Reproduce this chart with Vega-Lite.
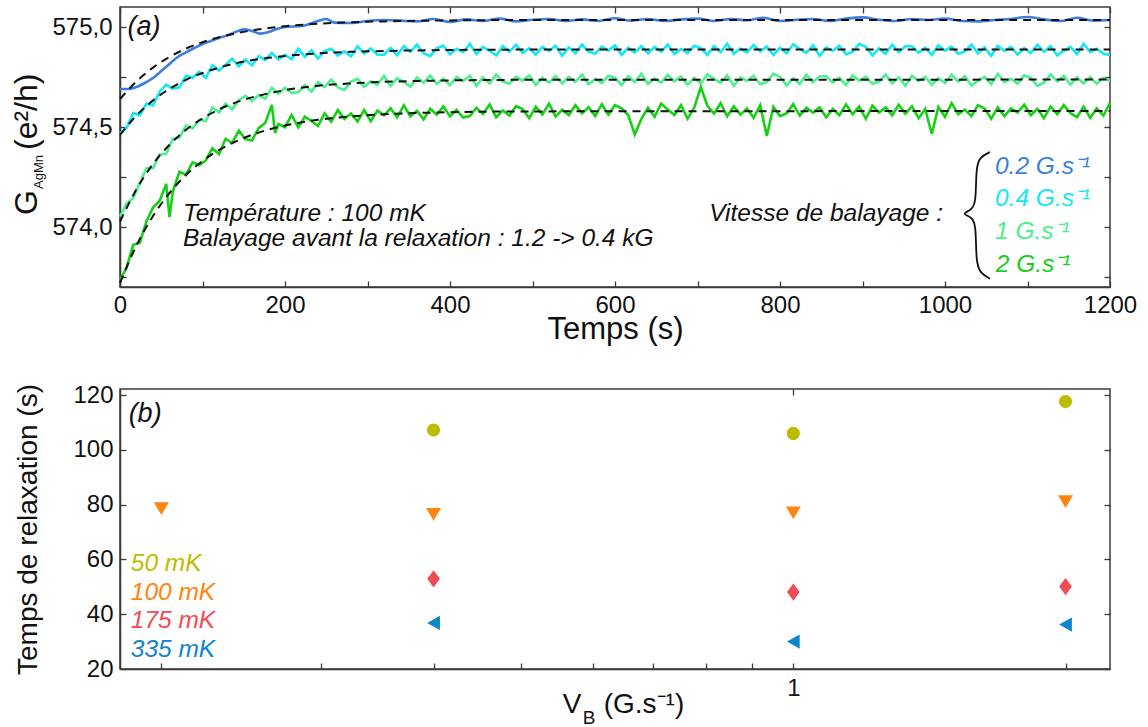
{
  "$schema": "https://vega.github.io/schema/vega-lite/v6.json",
  "padding": {"left": 10, "top": 5, "right": 0, "bottom": 0},
  "autosize": {"type": "pad"},
  "bounds": "flush",
  "spacing": 102,
  "resolve": {"scale": {"color": "independent", "shape": "independent"}},
  "config": {
    "font": "Liberation Sans",
    "view": {"stroke": "#3a3a3a", "strokeWidth": 1.5},
    "axis": {"domainColor": "#3a3a3a", "domainWidth": 1.5, "tickColor": "#3a3a3a", "tickWidth": 1.3, "tickSize": -6, "grid": false, "labelFont": "Liberation Sans", "labelFontSize": 24, "labelColor": "#111", "labelFlush": false, "labelOverlap": false, "titleFont": "Liberation Sans", "titleFontWeight": "normal", "titleColor": "#111"}
  },
  "datasets": {
    "raw": [
      {"s":"0.2","t":0,"g":574.690},{"s":"0.2","t":10,"g":574.690},{"s":"0.2","t":20,"g":574.700},{"s":"0.2","t":30,"g":574.720},{"s":"0.2","t":40,"g":574.745},{"s":"0.2","t":50,"g":574.780},{"s":"0.2","t":60,"g":574.815},{"s":"0.2","t":70,"g":574.850},{"s":"0.2","t":80,"g":574.873},{"s":"0.2","t":90,"g":574.895},{"s":"0.2","t":100,"g":574.915},{"s":"0.2","t":110,"g":574.930},{"s":"0.2","t":120,"g":574.945},{"s":"0.2","t":130,"g":574.958},{"s":"0.2","t":140,"g":574.975},{"s":"0.2","t":150,"g":574.988},{"s":"0.2","t":160,"g":574.980},{"s":"0.2","t":170,"g":574.967},{"s":"0.2","t":180,"g":574.975},{"s":"0.2","t":190,"g":574.990},{"s":"0.2","t":200,"g":575.000},{"s":"0.2","t":220,"g":575.005},{"s":"0.2","t":240,"g":575.030},{"s":"0.2","t":250,"g":575.040},{"s":"0.2","t":260,"g":575.022},{"s":"0.2","t":280,"g":575.020},{"s":"0.2","t":300,"g":575.030},{"s":"0.2","t":320,"g":575.035},{"s":"0.2","t":340,"g":575.032},{"s":"0.2","t":360,"g":575.028},{"s":"0.2","t":380,"g":575.040},{"s":"0.2","t":400,"g":575.025},{"s":"0.2","t":420,"g":575.038},{"s":"0.2","t":440,"g":575.030},{"s":"0.2","t":460,"g":575.042},{"s":"0.2","t":480,"g":575.028},{"s":"0.2","t":500,"g":575.036},{"s":"0.2","t":520,"g":575.040},{"s":"0.2","t":540,"g":575.030},{"s":"0.2","t":560,"g":575.038},{"s":"0.2","t":580,"g":575.030},{"s":"0.2","t":600,"g":575.044},{"s":"0.2","t":620,"g":575.032},{"s":"0.2","t":640,"g":575.040},{"s":"0.2","t":660,"g":575.030},{"s":"0.2","t":680,"g":575.038},{"s":"0.2","t":700,"g":575.042},{"s":"0.2","t":720,"g":575.030},{"s":"0.2","t":740,"g":575.040},{"s":"0.2","t":760,"g":575.034},{"s":"0.2","t":780,"g":575.046},{"s":"0.2","t":800,"g":575.030},{"s":"0.2","t":820,"g":575.036},{"s":"0.2","t":840,"g":575.040},{"s":"0.2","t":860,"g":575.030},{"s":"0.2","t":880,"g":575.042},{"s":"0.2","t":900,"g":575.048},{"s":"0.2","t":920,"g":575.036},{"s":"0.2","t":940,"g":575.030},{"s":"0.2","t":960,"g":575.040},{"s":"0.2","t":980,"g":575.035},{"s":"0.2","t":1000,"g":575.042},{"s":"0.2","t":1020,"g":575.030},{"s":"0.2","t":1040,"g":575.028},{"s":"0.2","t":1060,"g":575.035},{"s":"0.2","t":1080,"g":575.040},{"s":"0.2","t":1100,"g":575.050},{"s":"0.2","t":1120,"g":575.038},{"s":"0.2","t":1140,"g":575.030},{"s":"0.2","t":1160,"g":575.046},{"s":"0.2","t":1180,"g":575.032},{"s":"0.2","t":1200,"g":575.035}
    ],
    "noisy": [
      {"s":"0.4","t":0,"g":574.467},{"s":"0.4","t":8,"g":574.496},{"s":"0.4","t":16,"g":574.570},{"s":"0.4","t":24,"g":574.558},{"s":"0.4","t":32,"g":574.616},{"s":"0.4","t":40,"g":574.608},{"s":"0.4","t":48,"g":574.675},{"s":"0.4","t":56,"g":574.712},{"s":"0.4","t":64,"g":574.692},{"s":"0.4","t":72,"g":574.698},{"s":"0.4","t":80,"g":574.756},{"s":"0.4","t":88,"g":574.746},{"s":"0.4","t":96,"g":574.776},{"s":"0.4","t":104,"g":574.746},{"s":"0.4","t":112,"g":574.809},{"s":"0.4","t":120,"g":574.782},{"s":"0.4","t":128,"g":574.811},{"s":"0.4","t":136,"g":574.842},{"s":"0.4","t":144,"g":574.803},{"s":"0.4","t":152,"g":574.837},{"s":"0.4","t":160,"g":574.808},{"s":"0.4","t":168,"g":574.854},{"s":"0.4","t":176,"g":574.835},{"s":"0.4","t":184,"g":574.871},{"s":"0.4","t":192,"g":574.837},{"s":"0.4","t":200,"g":574.861},{"s":"0.4","t":208,"g":574.838},{"s":"0.4","t":216,"g":574.891},{"s":"0.4","t":224,"g":574.851},{"s":"0.4","t":232,"g":574.884},{"s":"0.4","t":240,"g":574.842},{"s":"0.4","t":248,"g":574.879},{"s":"0.4","t":256,"g":574.891},{"s":"0.4","t":264,"g":574.857},{"s":"0.4","t":272,"g":574.878},{"s":"0.4","t":280,"g":574.853},{"s":"0.4","t":288,"g":574.903},{"s":"0.4","t":296,"g":574.868},{"s":"0.4","t":304,"g":574.893},{"s":"0.4","t":312,"g":574.861},{"s":"0.4","t":320,"g":574.862},{"s":"0.4","t":328,"g":574.896},{"s":"0.4","t":336,"g":574.859},{"s":"0.4","t":344,"g":574.904},{"s":"0.4","t":352,"g":574.876},{"s":"0.4","t":360,"g":574.912},{"s":"0.4","t":368,"g":574.869},{"s":"0.4","t":376,"g":574.854},{"s":"0.4","t":384,"g":574.894},{"s":"0.4","t":392,"g":574.906},{"s":"0.4","t":400,"g":574.864},{"s":"0.4","t":408,"g":574.891},{"s":"0.4","t":416,"g":574.874},{"s":"0.4","t":424,"g":574.916},{"s":"0.4","t":432,"g":574.864},{"s":"0.4","t":440,"g":574.901},{"s":"0.4","t":448,"g":574.881},{"s":"0.4","t":456,"g":574.858},{"s":"0.4","t":464,"g":574.904},{"s":"0.4","t":472,"g":574.876},{"s":"0.4","t":480,"g":574.911},{"s":"0.4","t":488,"g":574.870},{"s":"0.4","t":496,"g":574.894},{"s":"0.4","t":504,"g":574.862},{"s":"0.4","t":512,"g":574.900},{"s":"0.4","t":520,"g":574.880},{"s":"0.4","t":528,"g":574.906},{"s":"0.4","t":536,"g":574.856},{"s":"0.4","t":544,"g":574.898},{"s":"0.4","t":552,"g":574.868},{"s":"0.4","t":560,"g":574.912},{"s":"0.4","t":568,"g":574.877},{"s":"0.4","t":576,"g":574.866},{"s":"0.4","t":584,"g":574.902},{"s":"0.4","t":592,"g":574.882},{"s":"0.4","t":600,"g":574.908},{"s":"0.4","t":608,"g":574.860},{"s":"0.4","t":616,"g":574.896},{"s":"0.4","t":624,"g":574.872},{"s":"0.4","t":632,"g":574.904},{"s":"0.4","t":640,"g":574.868},{"s":"0.4","t":648,"g":574.900},{"s":"0.4","t":656,"g":574.876},{"s":"0.4","t":664,"g":574.912},{"s":"0.4","t":672,"g":574.864},{"s":"0.4","t":680,"g":574.890},{"s":"0.4","t":688,"g":574.870},{"s":"0.4","t":696,"g":574.906},{"s":"0.4","t":704,"g":574.895},{"s":"0.4","t":712,"g":574.860},{"s":"0.4","t":720,"g":574.904},{"s":"0.4","t":728,"g":574.874},{"s":"0.4","t":736,"g":574.916},{"s":"0.4","t":744,"g":574.866},{"s":"0.4","t":752,"g":574.892},{"s":"0.4","t":760,"g":574.872},{"s":"0.4","t":768,"g":574.910},{"s":"0.4","t":776,"g":574.878},{"s":"0.4","t":784,"g":574.902},{"s":"0.4","t":792,"g":574.861},{"s":"0.4","t":800,"g":574.896},{"s":"0.4","t":808,"g":574.868},{"s":"0.4","t":816,"g":574.914},{"s":"0.4","t":824,"g":574.891},{"s":"0.4","t":832,"g":574.871},{"s":"0.4","t":840,"g":574.908},{"s":"0.4","t":848,"g":574.856},{"s":"0.4","t":856,"g":574.898},{"s":"0.4","t":864,"g":574.881},{"s":"0.4","t":872,"g":574.906},{"s":"0.4","t":880,"g":574.864},{"s":"0.4","t":888,"g":574.876},{"s":"0.4","t":896,"g":574.916},{"s":"0.4","t":904,"g":574.901},{"s":"0.4","t":912,"g":574.858},{"s":"0.4","t":920,"g":574.894},{"s":"0.4","t":928,"g":574.866},{"s":"0.4","t":936,"g":574.911},{"s":"0.4","t":944,"g":574.874},{"s":"0.4","t":952,"g":574.904},{"s":"0.4","t":960,"g":574.904},{"s":"0.4","t":968,"g":574.872},{"s":"0.4","t":976,"g":574.896},{"s":"0.4","t":984,"g":574.860},{"s":"0.4","t":992,"g":574.908},{"s":"0.4","t":1000,"g":574.882},{"s":"0.4","t":1008,"g":574.902},{"s":"0.4","t":1016,"g":574.866},{"s":"0.4","t":1024,"g":574.877},{"s":"0.4","t":1032,"g":574.912},{"s":"0.4","t":1040,"g":574.868},{"s":"0.4","t":1048,"g":574.898},{"s":"0.4","t":1056,"g":574.856},{"s":"0.4","t":1064,"g":574.906},{"s":"0.4","t":1072,"g":574.880},{"s":"0.4","t":1080,"g":574.900},{"s":"0.4","t":1088,"g":574.862},{"s":"0.4","t":1096,"g":574.894},{"s":"0.4","t":1104,"g":574.870},{"s":"0.4","t":1112,"g":574.911},{"s":"0.4","t":1120,"g":574.876},{"s":"0.4","t":1128,"g":574.904},{"s":"0.4","t":1136,"g":574.858},{"s":"0.4","t":1144,"g":574.881},{"s":"0.4","t":1152,"g":574.901},{"s":"0.4","t":1160,"g":574.864},{"s":"0.4","t":1168,"g":574.916},{"s":"0.4","t":1176,"g":574.874},{"s":"0.4","t":1184,"g":574.891},{"s":"0.4","t":1192,"g":574.866},{"s":"0.4","t":1200,"g":574.860},
      {"s":"1","t":0,"g":574.052},{"s":"1","t":8,"g":574.118},{"s":"1","t":16,"g":574.144},{"s":"1","t":24,"g":574.220},{"s":"1","t":32,"g":574.294},{"s":"1","t":40,"g":574.294},{"s":"1","t":48,"g":574.363},{"s":"1","t":56,"g":574.366},{"s":"1","t":64,"g":574.441},{"s":"1","t":72,"g":574.447},{"s":"1","t":80,"g":574.507},{"s":"1","t":88,"g":574.493},{"s":"1","t":96,"g":574.536},{"s":"1","t":104,"g":574.530},{"s":"1","t":112,"g":574.598},{"s":"1","t":120,"g":574.573},{"s":"1","t":128,"g":574.617},{"s":"1","t":136,"g":574.587},{"s":"1","t":144,"g":574.634},{"s":"1","t":152,"g":574.656},{"s":"1","t":160,"g":574.630},{"s":"1","t":168,"g":574.659},{"s":"1","t":176,"g":574.641},{"s":"1","t":184,"g":574.696},{"s":"1","t":192,"g":574.666},{"s":"1","t":200,"g":574.696},{"s":"1","t":208,"g":574.670},{"s":"1","t":216,"g":574.674},{"s":"1","t":224,"g":574.709},{"s":"1","t":232,"g":574.676},{"s":"1","t":240,"g":574.724},{"s":"1","t":248,"g":574.700},{"s":"1","t":256,"g":574.738},{"s":"1","t":264,"g":574.698},{"s":"1","t":272,"g":574.685},{"s":"1","t":280,"g":574.727},{"s":"1","t":288,"g":574.741},{"s":"1","t":296,"g":574.701},{"s":"1","t":304,"g":574.728},{"s":"1","t":312,"g":574.712},{"s":"1","t":320,"g":574.755},{"s":"1","t":328,"g":574.706},{"s":"1","t":336,"g":574.744},{"s":"1","t":344,"g":574.725},{"s":"1","t":352,"g":574.702},{"s":"1","t":360,"g":574.748},{"s":"1","t":368,"g":574.721},{"s":"1","t":376,"g":574.757},{"s":"1","t":384,"g":574.716},{"s":"1","t":392,"g":574.741},{"s":"1","t":400,"g":574.709},{"s":"1","t":408,"g":574.750},{"s":"1","t":416,"g":574.730},{"s":"1","t":424,"g":574.756},{"s":"1","t":432,"g":574.706},{"s":"1","t":440,"g":574.748},{"s":"1","t":448,"g":574.718},{"s":"1","t":456,"g":574.762},{"s":"1","t":464,"g":574.727},{"s":"1","t":472,"g":574.716},{"s":"1","t":480,"g":574.752},{"s":"1","t":488,"g":574.732},{"s":"1","t":496,"g":574.758},{"s":"1","t":504,"g":574.710},{"s":"1","t":512,"g":574.746},{"s":"1","t":520,"g":574.722},{"s":"1","t":528,"g":574.754},{"s":"1","t":536,"g":574.718},{"s":"1","t":544,"g":574.750},{"s":"1","t":552,"g":574.726},{"s":"1","t":560,"g":574.762},{"s":"1","t":568,"g":574.714},{"s":"1","t":576,"g":574.740},{"s":"1","t":584,"g":574.720},{"s":"1","t":592,"g":574.756},{"s":"1","t":600,"g":574.745},{"s":"1","t":608,"g":574.710},{"s":"1","t":616,"g":574.754},{"s":"1","t":624,"g":574.724},{"s":"1","t":632,"g":574.766},{"s":"1","t":640,"g":574.716},{"s":"1","t":648,"g":574.742},{"s":"1","t":656,"g":574.722},{"s":"1","t":664,"g":574.760},{"s":"1","t":672,"g":574.728},{"s":"1","t":680,"g":574.752},{"s":"1","t":688,"g":574.711},{"s":"1","t":696,"g":574.746},{"s":"1","t":704,"g":574.718},{"s":"1","t":712,"g":574.764},{"s":"1","t":720,"g":574.741},{"s":"1","t":728,"g":574.721},{"s":"1","t":736,"g":574.758},{"s":"1","t":744,"g":574.706},{"s":"1","t":752,"g":574.748},{"s":"1","t":760,"g":574.731},{"s":"1","t":768,"g":574.756},{"s":"1","t":776,"g":574.714},{"s":"1","t":784,"g":574.726},{"s":"1","t":792,"g":574.766},{"s":"1","t":800,"g":574.751},{"s":"1","t":808,"g":574.708},{"s":"1","t":816,"g":574.744},{"s":"1","t":824,"g":574.716},{"s":"1","t":832,"g":574.761},{"s":"1","t":840,"g":574.724},{"s":"1","t":848,"g":574.754},{"s":"1","t":856,"g":574.754},{"s":"1","t":864,"g":574.722},{"s":"1","t":872,"g":574.746},{"s":"1","t":880,"g":574.710},{"s":"1","t":888,"g":574.758},{"s":"1","t":896,"g":574.732},{"s":"1","t":904,"g":574.752},{"s":"1","t":912,"g":574.716},{"s":"1","t":920,"g":574.727},{"s":"1","t":928,"g":574.762},{"s":"1","t":936,"g":574.718},{"s":"1","t":944,"g":574.748},{"s":"1","t":952,"g":574.706},{"s":"1","t":960,"g":574.756},{"s":"1","t":968,"g":574.730},{"s":"1","t":976,"g":574.750},{"s":"1","t":984,"g":574.712},{"s":"1","t":992,"g":574.744},{"s":"1","t":1000,"g":574.720},{"s":"1","t":1008,"g":574.761},{"s":"1","t":1016,"g":574.726},{"s":"1","t":1024,"g":574.754},{"s":"1","t":1032,"g":574.708},{"s":"1","t":1040,"g":574.731},{"s":"1","t":1048,"g":574.751},{"s":"1","t":1056,"g":574.714},{"s":"1","t":1064,"g":574.766},{"s":"1","t":1072,"g":574.724},{"s":"1","t":1080,"g":574.741},{"s":"1","t":1088,"g":574.716},{"s":"1","t":1096,"g":574.758},{"s":"1","t":1104,"g":574.746},{"s":"1","t":1112,"g":574.706},{"s":"1","t":1120,"g":574.721},{"s":"1","t":1128,"g":574.764},{"s":"1","t":1136,"g":574.728},{"s":"1","t":1144,"g":574.756},{"s":"1","t":1152,"g":574.711},{"s":"1","t":1160,"g":574.748},{"s":"1","t":1168,"g":574.718},{"s":"1","t":1176,"g":574.750},{"s":"1","t":1184,"g":574.716},{"s":"1","t":1192,"g":574.746},{"s":"1","t":1200,"g":574.730},
      {"s":"2","t":0,"g":573.735},{"s":"2","t":8,"g":573.797},{"s":"2","t":16,"g":573.911},{"s":"2","t":24,"g":573.921},{"s":"2","t":32,"g":574.028},{"s":"2","t":40,"g":574.097},{"s":"2","t":48,"g":574.130},{"s":"2","t":56,"g":574.215},{"s":"2","t":60,"g":574.050},{"s":"2","t":64,"g":574.177},{"s":"2","t":72,"g":574.276},{"s":"2","t":80,"g":574.262},{"s":"2","t":88,"g":574.323},{"s":"2","t":96,"g":574.309},{"s":"2","t":104,"g":574.333},{"s":"2","t":112,"g":574.394},{"s":"2","t":120,"g":574.365},{"s":"2","t":128,"g":574.441},{"s":"2","t":136,"g":574.421},{"s":"2","t":144,"g":574.482},{"s":"2","t":152,"g":574.439},{"s":"2","t":160,"g":574.432},{"s":"2","t":168,"g":574.494},{"s":"2","t":176,"g":574.520},{"s":"2","t":184,"g":574.610},{"s":"2","t":188,"g":574.470},{"s":"2","t":192,"g":574.515},{"s":"2","t":200,"g":574.499},{"s":"2","t":208,"g":574.560},{"s":"2","t":216,"g":574.498},{"s":"2","t":224,"g":574.552},{"s":"2","t":232,"g":574.530},{"s":"2","t":240,"g":574.505},{"s":"2","t":248,"g":574.568},{"s":"2","t":256,"g":574.527},{"s":"2","t":264,"g":574.584},{"s":"2","t":272,"g":574.541},{"s":"2","t":280,"g":574.567},{"s":"2","t":288,"g":574.528},{"s":"2","t":296,"g":574.585},{"s":"2","t":304,"g":574.529},{"s":"2","t":312,"g":574.582},{"s":"2","t":320,"g":574.558},{"s":"2","t":328,"g":574.593},{"s":"2","t":336,"g":574.548},{"s":"2","t":344,"g":574.608},{"s":"2","t":352,"g":574.554},{"s":"2","t":360,"g":574.581},{"s":"2","t":368,"g":574.538},{"s":"2","t":376,"g":574.591},{"s":"2","t":384,"g":574.562},{"s":"2","t":392,"g":574.603},{"s":"2","t":400,"g":574.554},{"s":"2","t":408,"g":574.586},{"s":"2","t":416,"g":574.547},{"s":"2","t":424,"g":574.555},{"s":"2","t":432,"g":574.596},{"s":"2","t":440,"g":574.565},{"s":"2","t":448,"g":574.612},{"s":"2","t":456,"g":574.549},{"s":"2","t":464,"g":574.583},{"s":"2","t":472,"g":574.557},{"s":"2","t":480,"g":574.604},{"s":"2","t":488,"g":574.590},{"s":"2","t":496,"g":574.544},{"s":"2","t":504,"g":574.601},{"s":"2","t":512,"g":574.562},{"s":"2","t":520,"g":574.617},{"s":"2","t":528,"g":574.552},{"s":"2","t":536,"g":574.586},{"s":"2","t":544,"g":574.560},{"s":"2","t":552,"g":574.609},{"s":"2","t":560,"g":574.568},{"s":"2","t":568,"g":574.599},{"s":"2","t":576,"g":574.555},{"s":"2","t":584,"g":574.614},{"s":"2","t":592,"g":574.562},{"s":"2","t":600,"g":574.609},{"s":"2","t":608,"g":574.593},{"s":"2","t":616,"g":574.560},{"s":"2","t":624,"g":574.462},{"s":"2","t":632,"g":574.541},{"s":"2","t":640,"g":574.596},{"s":"2","t":648,"g":574.551},{"s":"2","t":656,"g":574.617},{"s":"2","t":664,"g":574.587},{"s":"2","t":672,"g":574.560},{"s":"2","t":680,"g":574.609},{"s":"2","t":688,"g":574.541},{"s":"2","t":696,"g":574.596},{"s":"2","t":704,"g":574.700},{"s":"2","t":712,"g":574.606},{"s":"2","t":720,"g":574.567},{"s":"2","t":728,"g":574.619},{"s":"2","t":736,"g":574.554},{"s":"2","t":744,"g":574.603},{"s":"2","t":752,"g":574.562},{"s":"2","t":760,"g":574.593},{"s":"2","t":768,"g":574.546},{"s":"2","t":776,"g":574.609},{"s":"2","t":784,"g":574.455},{"s":"2","t":792,"g":574.601},{"s":"2","t":800,"g":574.554},{"s":"2","t":808,"g":574.568},{"s":"2","t":816,"g":574.614},{"s":"2","t":824,"g":574.557},{"s":"2","t":832,"g":574.596},{"s":"2","t":840,"g":574.572},{"s":"2","t":848,"g":574.598},{"s":"2","t":856,"g":574.549},{"s":"2","t":864,"g":574.590},{"s":"2","t":872,"g":574.559},{"s":"2","t":880,"g":574.613},{"s":"2","t":888,"g":574.564},{"s":"2","t":896,"g":574.602},{"s":"2","t":904,"g":574.541},{"s":"2","t":912,"g":574.606},{"s":"2","t":920,"g":574.572},{"s":"2","t":928,"g":574.598},{"s":"2","t":936,"g":574.559},{"s":"2","t":944,"g":574.611},{"s":"2","t":952,"g":574.567},{"s":"2","t":960,"g":574.603},{"s":"2","t":968,"g":574.544},{"s":"2","t":976,"g":574.590},{"s":"2","t":984,"g":574.465},{"s":"2","t":992,"g":574.600},{"s":"2","t":1000,"g":574.551},{"s":"2","t":1008,"g":574.619},{"s":"2","t":1016,"g":574.564},{"s":"2","t":1024,"g":574.587},{"s":"2","t":1032,"g":574.554},{"s":"2","t":1040,"g":574.609},{"s":"2","t":1048,"g":574.593},{"s":"2","t":1056,"g":574.541},{"s":"2","t":1064,"g":574.598},{"s":"2","t":1072,"g":574.554},{"s":"2","t":1080,"g":574.593},{"s":"2","t":1088,"g":574.572},{"s":"2","t":1096,"g":574.611},{"s":"2","t":1104,"g":574.559},{"s":"2","t":1112,"g":574.590},{"s":"2","t":1120,"g":574.544},{"s":"2","t":1128,"g":574.603},{"s":"2","t":1136,"g":574.564},{"s":"2","t":1144,"g":574.609},{"s":"2","t":1152,"g":574.570},{"s":"2","t":1160,"g":574.549},{"s":"2","t":1168,"g":574.601},{"s":"2","t":1176,"g":574.546},{"s":"2","t":1184,"g":574.593},{"s":"2","t":1192,"g":574.557},{"s":"2","t":1200,"g":574.620}
    ],
    "fit": [
      {"s":"0.2","t":0,"g":574.640},{"s":"0.2","t":20,"g":574.728},{"s":"0.2","t":40,"g":574.797},{"s":"0.2","t":60,"g":574.850},{"s":"0.2","t":80,"g":574.892},{"s":"0.2","t":100,"g":574.924},{"s":"0.2","t":120,"g":574.949},{"s":"0.2","t":140,"g":574.968},{"s":"0.2","t":160,"g":574.983},{"s":"0.2","t":180,"g":574.995},{"s":"0.2","t":200,"g":575.004},{"s":"0.2","t":240,"g":575.016},{"s":"0.2","t":280,"g":575.024},{"s":"0.2","t":320,"g":575.028},{"s":"0.2","t":360,"g":575.031},{"s":"0.2","t":400,"g":575.033},{"s":"0.2","t":500,"g":575.035},{"s":"0.2","t":1200,"g":575.035},
      {"s":"0.4","t":0,"g":574.460},{"s":"0.4","t":20,"g":574.558},{"s":"0.4","t":40,"g":574.633},{"s":"0.4","t":60,"g":574.691},{"s":"0.4","t":80,"g":574.736},{"s":"0.4","t":100,"g":574.770},{"s":"0.4","t":120,"g":574.797},{"s":"0.4","t":140,"g":574.818},{"s":"0.4","t":160,"g":574.834},{"s":"0.4","t":180,"g":574.846},{"s":"0.4","t":200,"g":574.855},{"s":"0.4","t":240,"g":574.868},{"s":"0.4","t":280,"g":574.876},{"s":"0.4","t":320,"g":574.880},{"s":"0.4","t":360,"g":574.883},{"s":"0.4","t":400,"g":574.885},{"s":"0.4","t":500,"g":574.887},{"s":"0.4","t":1200,"g":574.887},
      {"s":"1","t":0,"g":574.027},{"s":"1","t":20,"g":574.189},{"s":"1","t":40,"g":574.315},{"s":"1","t":60,"g":574.411},{"s":"1","t":80,"g":574.486},{"s":"1","t":100,"g":574.543},{"s":"1","t":120,"g":574.588},{"s":"1","t":140,"g":574.622},{"s":"1","t":160,"g":574.648},{"s":"1","t":180,"g":574.668},{"s":"1","t":200,"g":574.684},{"s":"1","t":240,"g":574.706},{"s":"1","t":280,"g":574.718},{"s":"1","t":320,"g":574.726},{"s":"1","t":360,"g":574.730},{"s":"1","t":400,"g":574.733},{"s":"1","t":500,"g":574.736},{"s":"1","t":1200,"g":574.737},
      {"s":"2","t":0,"g":573.720},{"s":"2","t":20,"g":573.908},{"s":"2","t":40,"g":574.055},{"s":"2","t":60,"g":574.170},{"s":"2","t":80,"g":574.260},{"s":"2","t":100,"g":574.330},{"s":"2","t":120,"g":574.385},{"s":"2","t":140,"g":574.427},{"s":"2","t":160,"g":574.461},{"s":"2","t":180,"g":574.487},{"s":"2","t":200,"g":574.507},{"s":"2","t":240,"g":574.536},{"s":"2","t":280,"g":574.553},{"s":"2","t":320,"g":574.564},{"s":"2","t":360,"g":574.570},{"s":"2","t":400,"g":574.574},{"s":"2","t":500,"g":574.578},{"s":"2","t":1200,"g":574.580}
    ],
    "tagA": [{"label":"(a)","t":9,"g":575.0}],
    "annA": [
      {"label":"Température : 100 mK","t":76.4,"g":574.067},
      {"label":"Balayage avant la relaxation : 1.2 -> 0.4 kG","t":76.4,"g":573.942}
    ],
    "annA2": [{"label":"Vitesse de balayage :","t":997.6,"g":574.067}],
    "legA": [
      {"s":"0.2","label":"0.2 G.s⁻¹","t":1060.6,"g":574.300},
      {"s":"0.4","label":"0.4 G.s⁻¹","t":1060.6,"g":574.142},
      {"s":"1","label":"1 G.s⁻¹","t":1060.6,"g":573.975},
      {"s":"2","label":"2 G.s⁻¹","t":1061.5,"g":573.808}
    ],
    "brace": [
      {"i":0,"t":1054.5,"g":574.375},{"i":1,"t":1042.4,"g":574.350},{"i":2,"t":1037.6,"g":574.300},{"i":3,"t":1037.6,"g":574.125},{"i":4,"t":1032.7,"g":574.085},{"i":5,"t":1019.4,"g":574.0665},{"i":6,"t":1032.7,"g":574.050},{"i":7,"t":1037.6,"g":574.010},{"i":8,"t":1037.6,"g":573.825},{"i":9,"t":1042.4,"g":573.770},{"i":10,"t":1054.5,"g":573.7415}
    ],
    "ytG": [{"label":"G","t":-100.6,"g":574.06}],
    "ytSub": [{"label":"AgMn","t":-93.3,"g":574.19}],
    "ytUnit": [{"label":"(e²/h)","t":-100.6,"g":574.385}],
    "tau": [
      {"T":"50 mK","v":0.4,"tau":107.2},{"T":"50 mK","v":1,"tau":106.0},{"T":"50 mK","v":2,"tau":117.6},
      {"T":"100 mK","v":0.2,"tau":78.8},{"T":"100 mK","v":0.4,"tau":76.7},{"T":"100 mK","v":1,"tau":77.3},{"T":"100 mK","v":2,"tau":81.4},
      {"T":"175 mK","v":0.4,"tau":52.9},{"T":"175 mK","v":1,"tau":48.1},{"T":"175 mK","v":2,"tau":50.1},
      {"T":"335 mK","v":0.4,"tau":36.8},{"T":"335 mK","v":1,"tau":30.0},{"T":"335 mK","v":2,"tau":36.2}
    ],
    "legB": [
      {"T":"50 mK","v":0.185,"tau":58.3},{"T":"100 mK","v":0.185,"tau":47.7},{"T":"175 mK","v":0.185,"tau":37.5},{"T":"335 mK","v":0.185,"tau":26.8}
    ],
    "annB": [{"label":"(b)","v":0.184,"tau":113.2}],
    "xtV": [{"label":"V","v":0.556,"tau":3.83},{"label":"(G.s⁻¹)","v":0.617,"tau":3.83}],
    "xtSub": [{"label":"B","v":0.585,"tau":-0.07}]
  },
  "vconcat": [
    {
      "width": 990,
      "height": 280,
      "layer": [
        {
          "data": {"name": "raw"},
          "mark": {"type": "line", "strokeWidth": 2.6, "interpolate": "monotone"},
          "encoding": {
            "x": {"field": "t", "type": "quantitative", "scale": {"domain": [0, 1200], "nice": false, "zero": false},
                  "axis": {"orient": "bottom", "values": [0,100,200,300,400,500,600,700,800,900,1000,1100,1200], "format": "d", "labelExpr": "datum.value % 200 === 0 ? datum.label : ''", "labelPadding": 12, "title": "Temps (s)", "titleFontSize": 31, "titlePadding": -3}},
            "y": {"field": "g", "type": "quantitative", "scale": {"domain": [573.7, 575.1], "nice": false, "zero": false},
                  "axis": {"orient": "left", "values": [573.75,574,574.25,574.5,574.75,575], "labelExpr": "round(datum.value*4) % 2 === 0 ? replace(format(datum.value, '.1f'), '.', ',') : ''", "labelPadding": 14, "title": null}},
            "color": {"field": "s", "type": "nominal", "scale": {"domain": ["0.2","0.4","1","2"], "range": ["#3d7fe0","#14e8f2","#4cf08c","#16d016"]}, "legend": null}
          }
        },
        {
          "data": {"name": "noisy"},
          "mark": {"type": "line", "strokeWidth": 2.6, "interpolate": "linear"},
          "encoding": {
            "x": {"field": "t", "type": "quantitative", "scale": {"domain": [0, 1200], "nice": false, "zero": false}, "axis": null},
            "y": {"field": "g", "type": "quantitative", "scale": {"domain": [573.7, 575.1], "nice": false, "zero": false}, "axis": null},
            "color": {"field": "s", "type": "nominal", "scale": {"domain": ["0.2","0.4","1","2"], "range": ["#3d7fe0","#14e8f2","#4cf08c","#16d016"]}, "legend": null}
          }
        },
        {
          "data": {"name": "fit"},
          "mark": {"type": "line", "color": "#111111", "strokeWidth": 2, "strokeDash": [8, 6], "interpolate": "monotone"},
          "encoding": {
            "x": {"field": "t", "type": "quantitative", "scale": {"domain": [0, 1200], "nice": false, "zero": false},
                  "axis": {"orient": "top", "values": [0,100,200,300,400,500,600,700,800,900,1000,1100,1200], "labels": false, "domain": false, "title": null}},
            "y": {"field": "g", "type": "quantitative", "scale": {"domain": [573.7, 575.1], "nice": false, "zero": false},
                  "axis": {"orient": "right", "values": [573.75,574,574.25,574.5,574.75,575], "labels": false, "domain": false, "title": null}},
            "detail": {"field": "s", "type": "nominal"}
          }
        },
        {
          "data": {"name": "brace"},
          "mark": {"type": "line", "color": "#111111", "strokeWidth": 1.8, "interpolate": "basis"},
          "encoding": {
            "x": {"field": "t", "type": "quantitative", "scale": {"domain": [0, 1200], "nice": false, "zero": false}, "axis": null},
            "y": {"field": "g", "type": "quantitative", "scale": {"domain": [573.7, 575.1], "nice": false, "zero": false}, "axis": null},
            "order": {"field": "i", "type": "quantitative"}
          }
        },
        {
          "data": {"name": "tagA"},
          "mark": {"type": "text", "align": "left", "baseline": "middle", "fontSize": 27, "fontStyle": "italic", "color": "#111111"},
          "encoding": {
            "x": {"field": "t", "type": "quantitative", "scale": {"domain": [0, 1200], "nice": false, "zero": false}, "axis": null},
            "y": {"field": "g", "type": "quantitative", "scale": {"domain": [573.7, 575.1], "nice": false, "zero": false}, "axis": null},
            "text": {"field": "label"}
          }
        },
        {
          "data": {"name": "annA"},
          "mark": {"type": "text", "align": "left", "baseline": "middle", "fontSize": 24.5, "fontStyle": "italic", "color": "#111111"},
          "encoding": {
            "x": {"field": "t", "type": "quantitative", "scale": {"domain": [0, 1200], "nice": false, "zero": false}, "axis": null},
            "y": {"field": "g", "type": "quantitative", "scale": {"domain": [573.7, 575.1], "nice": false, "zero": false}, "axis": null},
            "text": {"field": "label"}
          }
        },
        {
          "data": {"name": "annA2"},
          "mark": {"type": "text", "align": "right", "baseline": "middle", "fontSize": 24.5, "fontStyle": "italic", "color": "#111111"},
          "encoding": {
            "x": {"field": "t", "type": "quantitative", "scale": {"domain": [0, 1200], "nice": false, "zero": false}, "axis": null},
            "y": {"field": "g", "type": "quantitative", "scale": {"domain": [573.7, 575.1], "nice": false, "zero": false}, "axis": null},
            "text": {"field": "label"}
          }
        },
        {
          "data": {"name": "legA"},
          "mark": {"type": "text", "align": "left", "baseline": "middle", "fontSize": 24.5, "fontStyle": "italic"},
          "encoding": {
            "x": {"field": "t", "type": "quantitative", "scale": {"domain": [0, 1200], "nice": false, "zero": false}, "axis": null},
            "y": {"field": "g", "type": "quantitative", "scale": {"domain": [573.7, 575.1], "nice": false, "zero": false}, "axis": null},
            "text": {"field": "label"},
            "color": {"field": "s", "type": "nominal", "scale": {"domain": ["0.2","0.4","1","2"], "range": ["#3d7fe0","#14e8f2","#4cf08c","#16d016"]}, "legend": null}
          }
        },
        {
          "data": {"name": "ytG"},
          "mark": {"type": "text", "align": "left", "baseline": "alphabetic", "angle": 270, "fontSize": 32, "color": "#111111"},
          "encoding": {
            "x": {"field": "t", "type": "quantitative", "scale": {"domain": [0, 1200], "nice": false, "zero": false}, "axis": null},
            "y": {"field": "g", "type": "quantitative", "scale": {"domain": [573.7, 575.1], "nice": false, "zero": false}, "axis": null},
            "text": {"field": "label"}
          }
        },
        {
          "data": {"name": "ytSub"},
          "mark": {"type": "text", "align": "left", "baseline": "alphabetic", "angle": 270, "fontSize": 13, "color": "#111111"},
          "encoding": {
            "x": {"field": "t", "type": "quantitative", "scale": {"domain": [0, 1200], "nice": false, "zero": false}, "axis": null},
            "y": {"field": "g", "type": "quantitative", "scale": {"domain": [573.7, 575.1], "nice": false, "zero": false}, "axis": null},
            "text": {"field": "label"}
          }
        },
        {
          "data": {"name": "ytUnit"},
          "mark": {"type": "text", "align": "left", "baseline": "alphabetic", "angle": 270, "fontSize": 32, "color": "#111111"},
          "encoding": {
            "x": {"field": "t", "type": "quantitative", "scale": {"domain": [0, 1200], "nice": false, "zero": false}, "axis": null},
            "y": {"field": "g", "type": "quantitative", "scale": {"domain": [573.7, 575.1], "nice": false, "zero": false}, "axis": null},
            "text": {"field": "label"}
          }
        }
      ],
      "resolve": {"axis": {"x": "independent", "y": "independent"}}
    },
    {
      "width": 990,
      "height": 280,
      "layer": [
        {
          "data": {"name": "tau"},
          "mark": {"type": "point", "filled": true, "opacity": 1, "size": 225, "strokeWidth": 0},
          "encoding": {
            "x": {"field": "v", "type": "quantitative", "scale": {"type": "log", "domain": [0.18, 2.24], "nice": false},
                  "axis": {"orient": "bottom", "values": [0.2,0.3,0.4,0.5,0.6,0.7,0.8,0.9,1,2], "labelExpr": "datum.value == 1 ? '1' : ''", "labelPadding": 13, "title": null}},
            "y": {"field": "tau", "type": "quantitative", "scale": {"domain": [20, 122.2], "nice": false, "zero": false},
                  "axis": {"orient": "left", "values": [20,40,60,80,100,120], "format": "d", "labelPadding": 13, "title": "Temps de relaxation (s)", "titleFontSize": 28, "titlePadding": 30}},
            "color": {"field": "T", "type": "nominal", "scale": {"domain": ["50 mK","100 mK","175 mK","335 mK"], "range": ["#bcbc00","#ff8410","#f04c54","#0f85cc"]}, "legend": null},
            "shape": {"field": "T", "type": "nominal", "scale": {"domain": ["50 mK","100 mK","175 mK","335 mK"], "range": ["M-0.87,0A0.87,0.87,0,1,1,0.87,0A0.87,0.87,0,1,1,-0.87,0Z","M-1,-0.75L1,-0.75L0,0.95Z","M0,-1.15L0.85,0L0,1.15L-0.85,0Z","M-0.85,0L0.85,-0.95L0.85,0.95Z"]}, "legend": null}
          }
        },
        {
          "data": {"name": "legB"},
          "mark": {"type": "text", "align": "left", "baseline": "middle", "fontSize": 24.5, "fontStyle": "italic"},
          "encoding": {
            "x": {"field": "v", "type": "quantitative", "scale": {"type": "log", "domain": [0.18, 2.24], "nice": false},
                  "axis": {"orient": "top", "values": [1], "labels": false, "domain": false, "title": null}},
            "y": {"field": "tau", "type": "quantitative", "scale": {"domain": [20, 122.2], "nice": false, "zero": false},
                  "axis": {"orient": "right", "values": [20,40,60,80,100,120], "labels": false, "domain": false, "title": null}},
            "text": {"field": "T"},
            "color": {"field": "T", "type": "nominal", "scale": {"domain": ["50 mK","100 mK","175 mK","335 mK"], "range": ["#bcbc00","#ff8410","#f04c54","#0f85cc"]}, "legend": null}
          }
        },
        {
          "data": {"name": "annB"},
          "mark": {"type": "text", "align": "left", "baseline": "middle", "fontSize": 27, "fontStyle": "italic", "color": "#111111"},
          "encoding": {
            "x": {"field": "v", "type": "quantitative", "scale": {"type": "log", "domain": [0.18, 2.24], "nice": false}, "axis": null},
            "y": {"field": "tau", "type": "quantitative", "scale": {"domain": [20, 122.2], "nice": false, "zero": false}, "axis": null},
            "text": {"field": "label"}
          }
        },
        {
          "data": {"name": "xtV"},
          "mark": {"type": "text", "align": "left", "baseline": "alphabetic", "fontSize": 28, "color": "#111111"},
          "encoding": {
            "x": {"field": "v", "type": "quantitative", "scale": {"type": "log", "domain": [0.18, 2.24], "nice": false}, "axis": null},
            "y": {"field": "tau", "type": "quantitative", "scale": {"domain": [20, 122.2], "nice": false, "zero": false}, "axis": null},
            "text": {"field": "label"}
          }
        },
        {
          "data": {"name": "xtSub"},
          "mark": {"type": "text", "align": "left", "baseline": "alphabetic", "fontSize": 19, "color": "#111111"},
          "encoding": {
            "x": {"field": "v", "type": "quantitative", "scale": {"type": "log", "domain": [0.18, 2.24], "nice": false}, "axis": null},
            "y": {"field": "tau", "type": "quantitative", "scale": {"domain": [20, 122.2], "nice": false, "zero": false}, "axis": null},
            "text": {"field": "label"}
          }
        }
      ],
      "resolve": {"axis": {"x": "independent", "y": "independent"}}
    }
  ]
}
